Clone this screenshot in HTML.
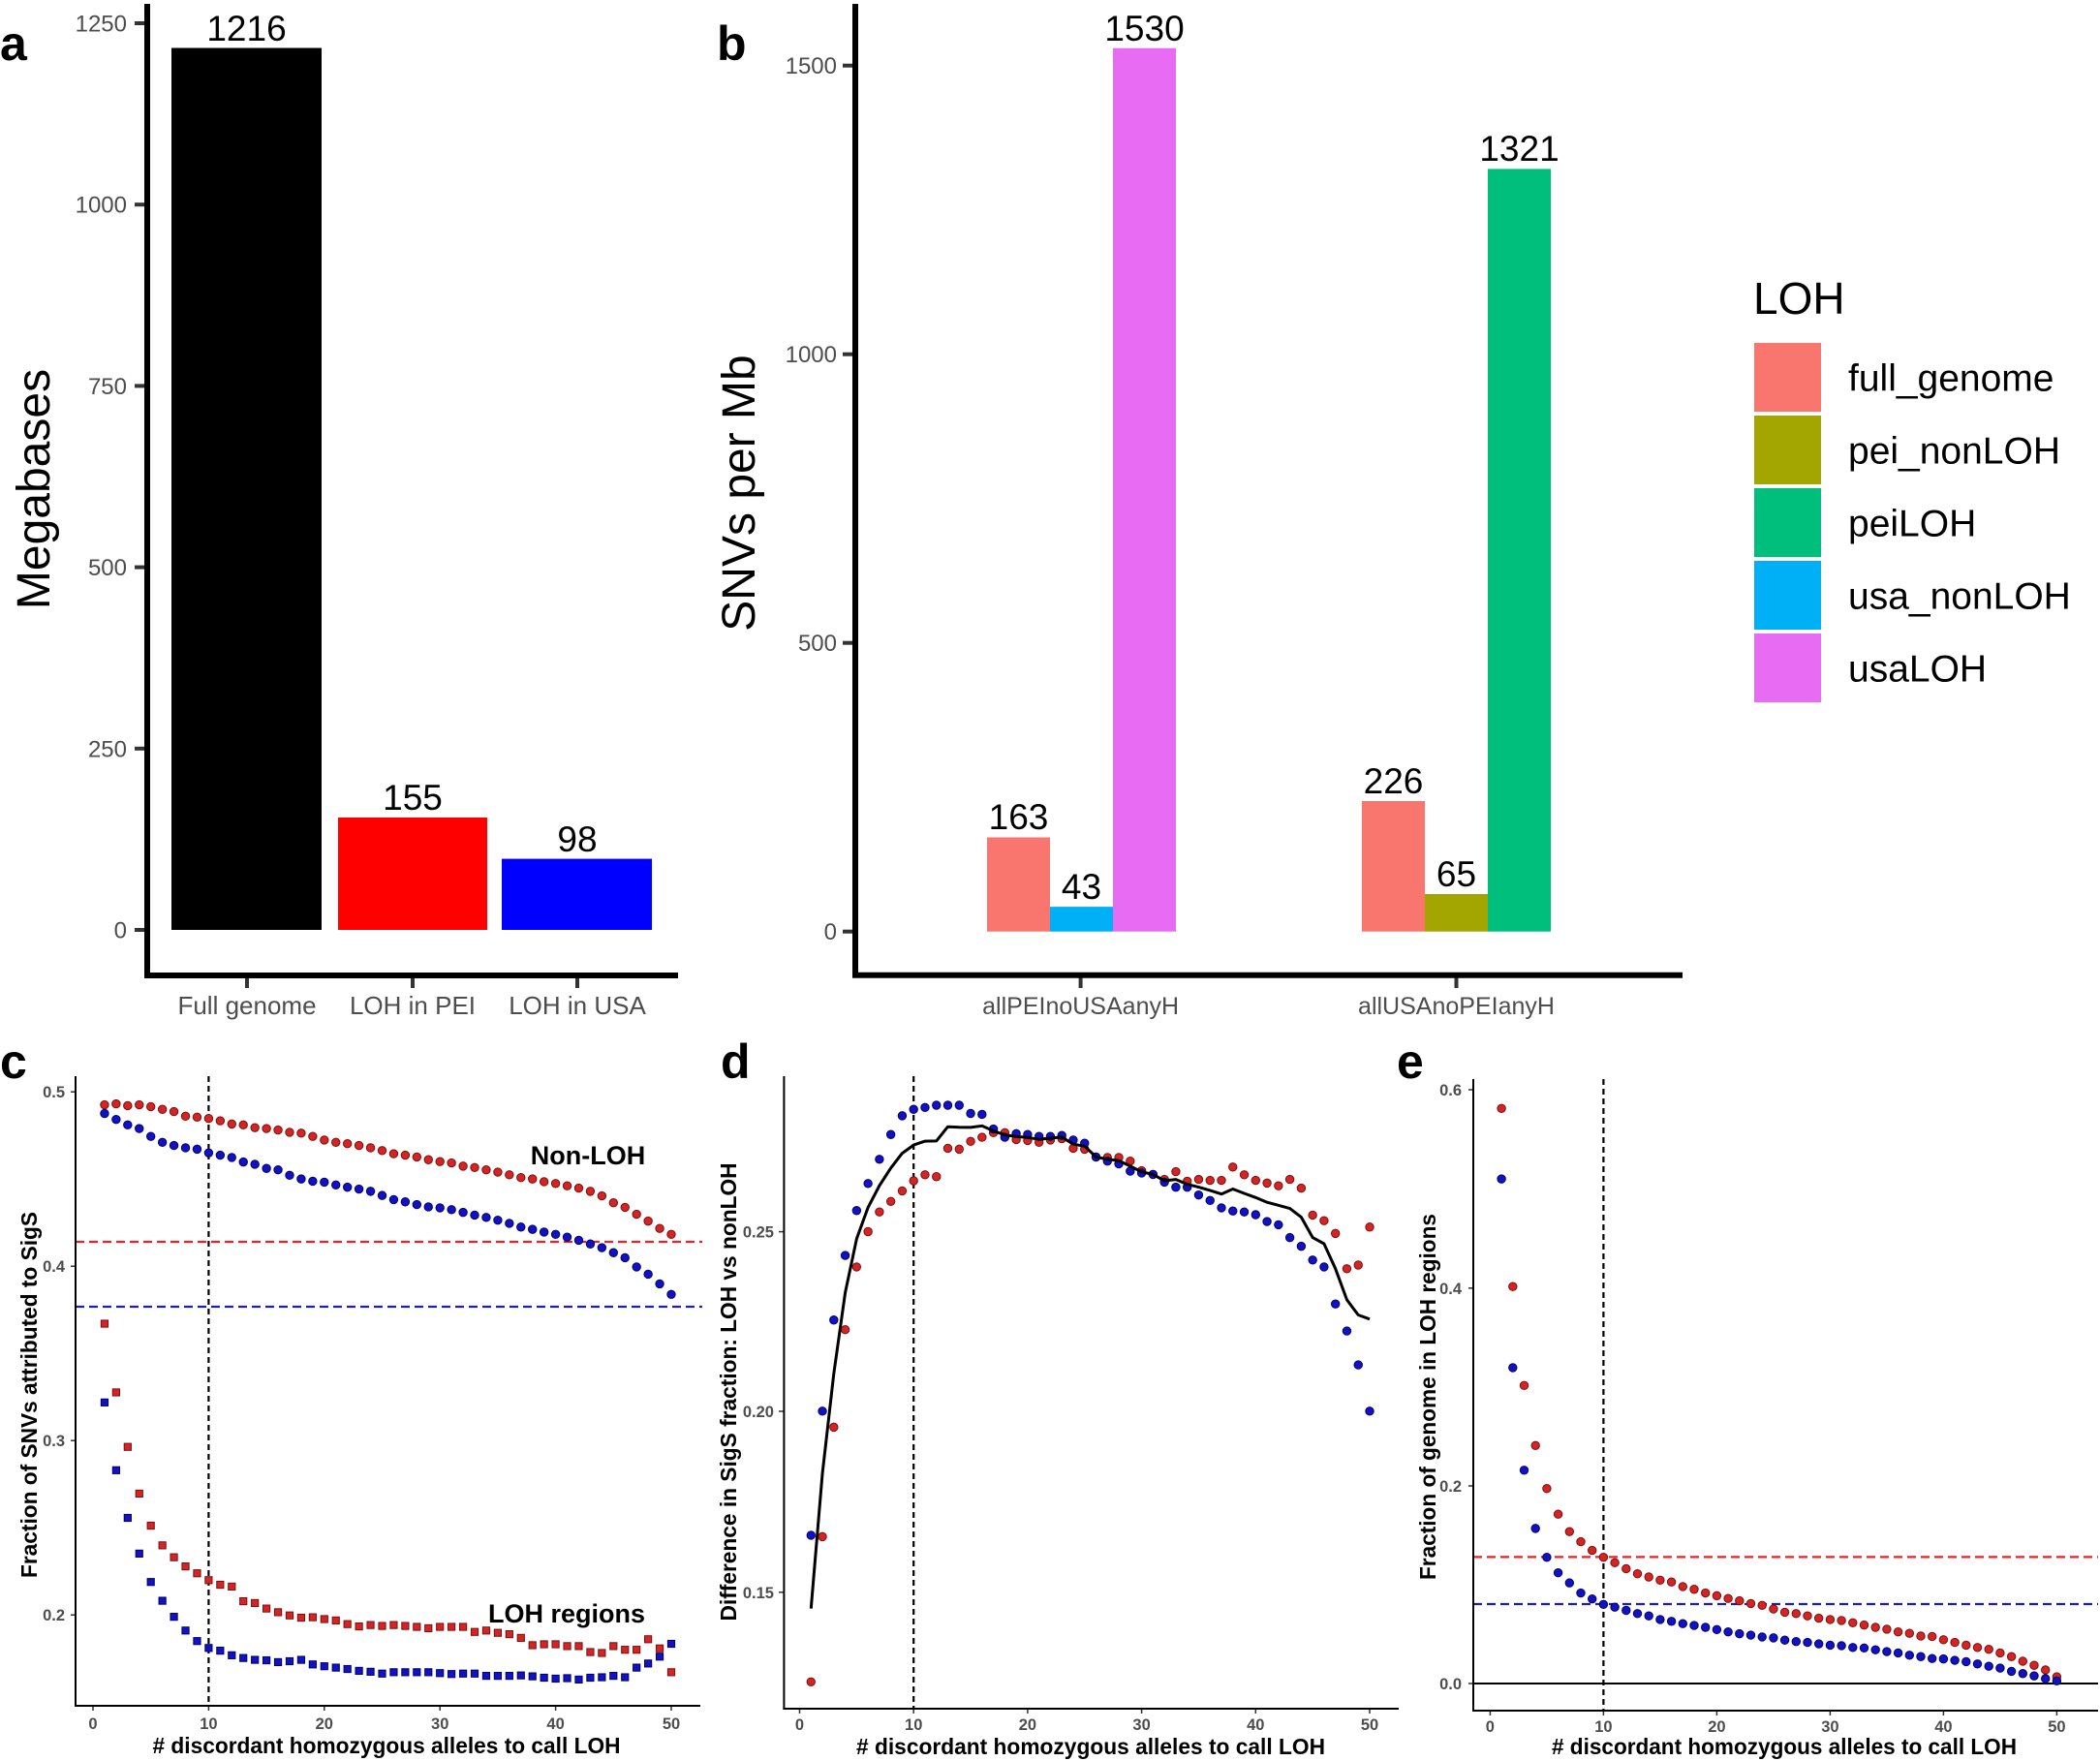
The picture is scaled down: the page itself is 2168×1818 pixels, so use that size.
<!DOCTYPE html>
<html><head><meta charset="utf-8"><style>
html,body{margin:0;padding:0;background:#fff}
svg{display:block}
text{font-family:"Liberation Sans",Arial,sans-serif}
.tk{font-size:24px;fill:#4d4d4d}
.tb{font-size:16.5px;font-weight:bold;fill:#4d4d4d}
.val{font-size:37px;fill:#000}
.lab{font-size:50px;font-weight:bold;fill:#000}
.ttl{font-size:23.5px;font-weight:bold;fill:#000}
</style></head><body>
<svg id="s" xmlns="http://www.w3.org/2000/svg" width="2168" height="1818" viewBox="0 0 2168 1818">
<rect width="2168" height="1818" fill="#fff"/>

<!-- ===== Panel a ===== -->
<text class="lab" x="0" y="62">a</text>
<rect x="177" y="49.5" width="155" height="910.5" fill="#000"/>
<rect x="349" y="844" width="154" height="116" fill="#ff0000"/>
<rect x="518" y="886.6" width="155" height="73.4" fill="#0000ff"/>
<g stroke="#333" stroke-width="4">
<line x1="139" y1="24" x2="150" y2="24"/><line x1="139" y1="211.2" x2="150" y2="211.2"/>
<line x1="139" y1="398.4" x2="150" y2="398.4"/><line x1="139" y1="585.6" x2="150" y2="585.6"/>
<line x1="139" y1="772.8" x2="150" y2="772.8"/><line x1="139" y1="960" x2="150" y2="960"/>
<line x1="255" y1="1008" x2="255" y2="1020"/><line x1="426" y1="1008" x2="426" y2="1020"/><line x1="596" y1="1008" x2="596" y2="1020"/>
</g>
<line x1="152" y1="4" x2="152" y2="1010" stroke="#000" stroke-width="6"/>
<line x1="149" y1="1007" x2="700" y2="1007" stroke="#000" stroke-width="6"/>
<g class="tk" text-anchor="end">
<text x="131" y="32.5">1250</text><text x="131" y="219.7">1000</text><text x="131" y="406.9">750</text>
<text x="131" y="594.1">500</text><text x="131" y="781.3">250</text><text x="131" y="968.5">0</text>
</g>
<g class="tk" text-anchor="middle" style="font-size:26px">
<text x="255" y="1047">Full genome</text><text x="426" y="1047">LOH in PEI</text><text x="596" y="1047">LOH in USA</text>
</g>
<g class="val" text-anchor="middle">
<text x="254.5" y="42">1216</text><text x="426" y="836">155</text><text x="596" y="879">98</text>
</g>
<text transform="translate(51,505) rotate(-90)" text-anchor="middle" style="font-size:48px">Megabases</text>

<!-- ===== Panel b ===== -->
<text class="lab" x="740" y="62">b</text>
<rect x="1019" y="864.5" width="65" height="97.2" fill="#F8766D"/>
<rect x="1084" y="936.1" width="65" height="25.6" fill="#00B0F6"/>
<rect x="1149" y="49.7" width="65" height="912" fill="#E76BF3"/>
<rect x="1406" y="827" width="65" height="134.7" fill="#F8766D"/>
<rect x="1471" y="923" width="65" height="38.7" fill="#A3A500"/>
<rect x="1536" y="174.4" width="65" height="787.3" fill="#00BF7D"/>
<g stroke="#333" stroke-width="4">
<line x1="870" y1="67.7" x2="881" y2="67.7"/><line x1="870" y1="365.7" x2="881" y2="365.7"/>
<line x1="870" y1="663.7" x2="881" y2="663.7"/><line x1="870" y1="961.7" x2="881" y2="961.7"/>
<line x1="1115.6" y1="1008" x2="1115.6" y2="1020"/><line x1="1503.5" y1="1008" x2="1503.5" y2="1020"/>
</g>
<line x1="883" y1="4" x2="883" y2="1009" stroke="#000" stroke-width="6"/>
<line x1="880" y1="1006.7" x2="1737" y2="1006.7" stroke="#000" stroke-width="6"/>
<g class="tk" text-anchor="end">
<text x="864" y="76.2">1500</text><text x="864" y="374.2">1000</text><text x="864" y="672.2">500</text><text x="864" y="970.2">0</text>
</g>
<g class="tk" text-anchor="middle" style="font-size:25px">
<text x="1115.6" y="1047">allPEInoUSAanyH</text><text x="1503.5" y="1047">allUSAnoPEIanyH</text>
</g>
<g class="val" text-anchor="middle">
<text x="1051.5" y="856">163</text><text x="1116.5" y="928">43</text><text x="1181.5" y="42">1530</text>
<text x="1438.5" y="819">226</text><text x="1503.5" y="915">65</text><text x="1568.5" y="166">1321</text>
</g>
<text transform="translate(779,509) rotate(-90)" text-anchor="middle" style="font-size:48px">SNVs per Mb</text>

<!-- Legend -->
<text x="1810" y="324" style="font-size:46px">LOH</text>
<rect x="1811" y="354" width="69" height="71" fill="#F8766D"/>
<rect x="1811" y="429" width="69" height="71" fill="#A3A500"/>
<rect x="1811" y="504" width="69" height="71" fill="#00BF7D"/>
<rect x="1811" y="579" width="69" height="71" fill="#00B0F6"/>
<rect x="1811" y="654" width="69" height="71" fill="#E76BF3"/>
<g style="font-size:39px">
<text x="1908" y="403.5">full_genome</text><text x="1908" y="478.5">pei_nonLOH</text>
<text x="1908" y="553.5">peiLOH</text><text x="1908" y="628.5">usa_nonLOH</text><text x="1908" y="703.5">usaLOH</text>
</g>

<!-- ===== Panel c ===== -->
<text class="lab" x="0" y="1113">c</text>
<line x1="78" y1="1282" x2="725" y2="1282" stroke="#E3242B" stroke-width="2.2" stroke-dasharray="9,5"/>
<line x1="78" y1="1349" x2="725" y2="1349" stroke="#1F1FA8" stroke-width="2.2" stroke-dasharray="9,5"/>
<line x1="215.4" y1="1111" x2="215.4" y2="1761" stroke="#000" stroke-width="2.2" stroke-dasharray="6,4"/>
<g stroke="#333" stroke-width="1.5">
<line x1="73" y1="1127.2" x2="78" y2="1127.2"/><line x1="73" y1="1307.2" x2="78" y2="1307.2"/>
<line x1="73" y1="1487.2" x2="78" y2="1487.2"/><line x1="73" y1="1667.2" x2="78" y2="1667.2"/>
<line x1="96" y1="1761" x2="96" y2="1766"/><line x1="215.4" y1="1761" x2="215.4" y2="1766"/>
<line x1="334.8" y1="1761" x2="334.8" y2="1766"/><line x1="454.2" y1="1761" x2="454.2" y2="1766"/>
<line x1="573.6" y1="1761" x2="573.6" y2="1766"/><line x1="693" y1="1761" x2="693" y2="1766"/>
</g>
<line x1="78" y1="1111" x2="78" y2="1762" stroke="#000" stroke-width="2"/>
<line x1="77" y1="1761" x2="723" y2="1761" stroke="#000" stroke-width="2"/>
<g class="tb" text-anchor="end">
<text x="67" y="1133.2">0.5</text><text x="67" y="1313.2">0.4</text><text x="67" y="1493.2">0.3</text><text x="67" y="1673.2">0.2</text>
</g>
<g class="tb" text-anchor="middle">
<text x="96" y="1785">0</text><text x="215.4" y="1785">10</text><text x="334.8" y="1785">20</text>
<text x="454.2" y="1785">30</text><text x="573.6" y="1785">40</text><text x="693" y="1785">50</text>
</g>
<text x="607" y="1202" text-anchor="middle" style="font-size:27px;font-weight:bold">Non-LOH</text>
<text x="585" y="1675" text-anchor="middle" style="font-size:27px;font-weight:bold">LOH regions</text>
<text class="ttl" transform="translate(38,1440) rotate(-90)" text-anchor="middle" textLength="378" lengthAdjust="spacingAndGlyphs">Fraction of SNVs attributed to SigS</text>
<text class="ttl" x="399" y="1810" text-anchor="middle" textLength="483" lengthAdjust="spacingAndGlyphs"># discordant homozygous alleles to call LOH</text>

<!-- ===== Panel d ===== -->
<text class="lab" x="744" y="1113">d</text>
<line x1="943.2" y1="1111" x2="943.2" y2="1764" stroke="#000" stroke-width="2.2" stroke-dasharray="6,4"/>
<g stroke="#333" stroke-width="1.5">
<line x1="804" y1="1271.6" x2="809" y2="1271.6"/><line x1="804" y1="1457" x2="809" y2="1457"/><line x1="804" y1="1643.8" x2="809" y2="1643.8"/>
<line x1="825.5" y1="1764" x2="825.5" y2="1769"/><line x1="943.2" y1="1764" x2="943.2" y2="1769"/>
<line x1="1060.9" y1="1764" x2="1060.9" y2="1769"/><line x1="1178.6" y1="1764" x2="1178.6" y2="1769"/>
<line x1="1296.3" y1="1764" x2="1296.3" y2="1769"/><line x1="1414" y1="1764" x2="1414" y2="1769"/>
</g>
<line x1="809.4" y1="1111" x2="809.4" y2="1765" stroke="#000" stroke-width="2"/>
<line x1="808.4" y1="1764" x2="1444" y2="1764" stroke="#000" stroke-width="2"/>
<g class="tb" text-anchor="end">
<text x="799" y="1277.6">0.25</text><text x="799" y="1463">0.20</text><text x="799" y="1649.8">0.15</text>
</g>
<g class="tb" text-anchor="middle">
<text x="825.5" y="1786">0</text><text x="943.2" y="1786">10</text><text x="1060.9" y="1786">20</text>
<text x="1178.6" y="1786">30</text><text x="1296.3" y="1786">40</text><text x="1414" y="1786">50</text>
</g>
<text class="ttl" transform="translate(760,1437) rotate(-90)" text-anchor="middle" textLength="473" lengthAdjust="spacingAndGlyphs">Difference in SigS fraction: LOH vs nonLOH</text>
<text class="ttl" x="1126" y="1811" text-anchor="middle" textLength="484" lengthAdjust="spacingAndGlyphs"># discordant homozygous alleles to call LOH</text>

<!-- ===== Panel e ===== -->
<text class="lab" x="1442" y="1113">e</text>
<line x1="1521" y1="1738" x2="2166" y2="1738" stroke="#000" stroke-width="2"/>
<line x1="1521" y1="1607.4" x2="2166" y2="1607.4" stroke="#E3242B" stroke-width="2.2" stroke-dasharray="9,5"/>
<line x1="1521" y1="1656" x2="2166" y2="1656" stroke="#1F1FA8" stroke-width="2.2" stroke-dasharray="9,5"/>
<line x1="1655.4" y1="1114" x2="1655.4" y2="1766" stroke="#000" stroke-width="2.2" stroke-dasharray="6,4"/>
<g stroke="#333" stroke-width="1.5">
<line x1="1516" y1="1125" x2="1521" y2="1125"/><line x1="1516" y1="1329.8" x2="1521" y2="1329.8"/>
<line x1="1516" y1="1534" x2="1521" y2="1534"/><line x1="1516" y1="1738" x2="1521" y2="1738"/>
<line x1="1538.4" y1="1766" x2="1538.4" y2="1771"/><line x1="1655.4" y1="1766" x2="1655.4" y2="1771"/>
<line x1="1772.4" y1="1766" x2="1772.4" y2="1771"/><line x1="1889.4" y1="1766" x2="1889.4" y2="1771"/>
<line x1="2006.4" y1="1766" x2="2006.4" y2="1771"/><line x1="2123.4" y1="1766" x2="2123.4" y2="1771"/>
</g>
<line x1="1521" y1="1114" x2="1521" y2="1767" stroke="#000" stroke-width="2"/>
<line x1="1520" y1="1766" x2="2166" y2="1766" stroke="#000" stroke-width="2"/>
<g class="tb" text-anchor="end">
<text x="1509" y="1131">0.6</text><text x="1509" y="1335.8">0.4</text><text x="1509" y="1540">0.2</text><text x="1509" y="1744">0.0</text>
</g>
<g class="tb" text-anchor="middle">
<text x="1538.4" y="1788">0</text><text x="1655.4" y="1788">10</text><text x="1772.4" y="1788">20</text>
<text x="1889.4" y="1788">30</text><text x="2006.4" y="1788">40</text><text x="2123.4" y="1788">50</text>
</g>
<text class="ttl" transform="translate(1482,1442) rotate(-90)" text-anchor="middle" textLength="378" lengthAdjust="spacingAndGlyphs">Fraction of genome in LOH regions</text>
<text class="ttl" x="1842" y="1811" text-anchor="middle" textLength="480" lengthAdjust="spacingAndGlyphs"># discordant homozygous alleles to call LOH</text>

<g id="pts"></g>
</svg>
<script>
(function(){
var NS='http://www.w3.org/2000/svg';
var g=document.getElementById('pts');
function el(tag,a){var e=document.createElementNS(NS,tag);for(var k in a)e.setAttribute(k,a[k]);g.appendChild(e);return e;}
function Y(yd){return 1080+yd/2.115;}
var RF='#d42424',RS='#7a1010',BF='#1212c4',BS='#00006a';
function circ(xf,arr,f,s){for(var i=0;i<arr.length;i++)el('circle',{cx:xf(i+1),cy:Y(arr[i]),r:4.2,fill:f,stroke:s,'stroke-width':1});}
function sq(xf,arr,f,s){for(var i=0;i<arr.length;i++)el('rect',{x:xf(i+1)-3.6,y:Y(arr[i])-3.6,width:7.2,height:7.2,fill:f,stroke:s,'stroke-width':1});}
var xc=function(n){return 96+11.94*n;};
var xd=function(n){return 825.5+11.77*n;};
var xe=function(n){return 1538.4+11.7*n;};
// panel c
var cR=[128,126,130,128,132,138,143,153,155,158,163,170,172,178,180,183,188,190,197,205,210,213,217,222,228,235,238,242,248,252,255,262,265,270,275,281,287,290,296,300,305,310,317,327,342,352,367,382,398,411];
var cB=[147,160,172,180,197,210,217,222,225,233,238,243,253,258,267,270,282,290,295,297,303,308,312,317,326,335,340,346,351,353,357,363,369,374,380,387,395,400,406,411,417,424,432,440,451,462,482,498,519,542];
var cRs=[606,756,875,977,1047,1090,1116,1136,1151,1166,1176,1180,1212,1216,1228,1236,1243,1248,1247,1251,1254,1262,1267,1264,1266,1264,1266,1268,1271,1268,1268,1268,1279,1276,1281,1284,1292,1308,1306,1306,1310,1310,1323,1325,1310,1318,1318,1295,1315,1367];
var cBs=[778,926,1030,1108,1170,1211,1246,1276,1299,1314,1320,1330,1336,1340,1341,1345,1343,1340,1350,1354,1357,1360,1364,1366,1370,1367,1367,1367,1367,1369,1371,1370,1370,1375,1375,1375,1374,1376,1379,1381,1380,1383,1379,1378,1375,1378,1357,1348,1333,1305];
circ(xc,cR,RF,RS);circ(xc,cB,BF,BS);sq(xc,cRs,RF,RS);sq(xc,cBs,BF,BS);
// panel d
var dR=[1388,1071,832,619,482,405,362,339,316,294,281,285,223,225,208,199,189,189,204,206,210,205,202,223,225,242,243,243,251,272,280,291,274,295,291,293,293,264,281,293,299,305,291,310,369,381,409,486,478,395];
var dB=[1068,797,598,457,359,300,247,193,152,138,134,129,129,129,147,149,181,199,191,193,197,197,195,205,212,242,251,257,273,277,280,297,308,308,325,337,353,360,362,368,383,390,418,437,467,482,563,622,696,797];
circ(xd,dR,RF,RS);circ(xd,dB,BF,BS);
var pts=[];for(var i=0;i<50;i++){pts.push(xd(i+1).toFixed(1)+','+Y((dR[i]+dB[i])/2).toFixed(1));}
el('polyline',{points:pts.join(' '),fill:'none',stroke:'#000','stroke-width':3,'stroke-linejoin':'round'});
// panel e
var eR=[136,525,741,872,966,1022,1060,1082,1101,1116,1128,1141,1152,1159,1166,1170,1180,1186,1194,1200,1206,1211,1217,1221,1229,1236,1239,1244,1249,1252,1254,1259,1264,1269,1273,1279,1282,1288,1289,1296,1302,1308,1313,1317,1325,1333,1343,1352,1362,1377];
var eB=[290,702,926,1053,1116,1150,1172,1194,1207,1219,1225,1232,1239,1244,1252,1256,1261,1265,1269,1274,1279,1283,1286,1290,1292,1297,1300,1302,1305,1308,1309,1313,1314,1318,1322,1325,1330,1333,1337,1338,1341,1344,1349,1354,1358,1365,1370,1375,1381,1386];
circ(xe,eR,RF,RS);circ(xe,eB,BF,BS);
})();
</script>
</body></html>
